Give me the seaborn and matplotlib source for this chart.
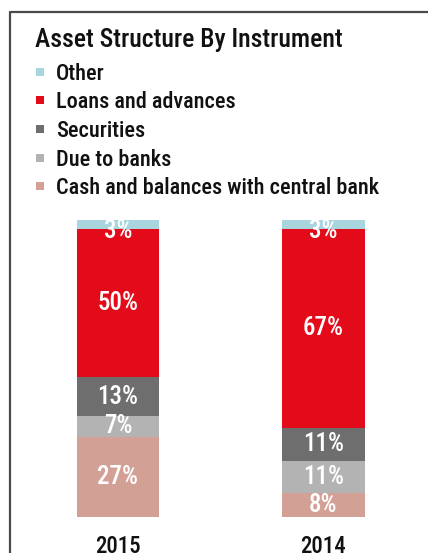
import matplotlib
matplotlib.use("Agg")
import matplotlib.pyplot as plt
from matplotlib.lines import Line2D
import seaborn as sns
import pandas as pd
import numpy as np

# Data (percent of total assets)
years = ["2015", "2014"]
categories = ["Cash and balances with central bank", "Due to banks", "Securities",
              "Loans and advances", "Other"]
cash = [27, 8]
due_banks = [7, 11]
securities = [13, 11]
loans = [50, 67]
other = [3, 3]
colors = ["#D3A096", "#B3B3B3", "#6E6E6E", "#E30A1A", "#A8D5DE"]

sns.set_theme(style="white")
font = ["Roboto Condensed", "DejaVu Sans"]
plt.rcParams["font.family"] = font
WT = "medium"

W, H = 428, 553
fig = plt.figure(figsize=(W / 100, H / 100), dpi=100)

# axes spanning the bar area
x0, x1 = 15.25, 15.25 + 411
y_bot, y_top = 517, 220
ax = fig.add_axes([x0 / W, (H - y_bot) / H, (x1 - x0) / W, (y_bot - y_top) / H])

series = [cash, due_banks, securities, loans, other]
bottom = np.zeros(len(years))
for name, vals, col in zip(categories, series, colors):
    df = pd.DataFrame({"year": years, "value": vals})
    sns.barplot(data=df, x="year", y="value", bottom=bottom, color=col,
                width=0.4, saturation=1, ax=ax, linewidth=0, order=years)
    for i, v in enumerate(vals):
        top = bottom[i] + v
        if name == "Other":
            ax.text(i, top + 0.3, f"{v}%", ha="center", va="top", color="white",
                    fontsize=18, family=font, weight=WT)
        else:
            ax.text(i, bottom[i] + v / 2, f"{v}%", ha="center", va="center",
                    color="white", fontsize=18, family=font, weight=WT)
    bottom = bottom + np.array(vals)

ax.set_xlim(-0.5, 1.5)
ax.set_ylim(0, 100)
ax.set_xlabel("")
ax.set_ylabel("")
ax.set_yticks([])
ax.tick_params(axis="x", length=0, pad=13, labelsize=16.5, labelcolor="#111111")
for lbl in ax.get_xticklabels():
    lbl.set_family(font)
    lbl.set_weight(WT)
sns.despine(ax=ax, left=True, bottom=True)

# title
fig.text(35 / W, 1 - 47 / H, "Asset Structure By Instrument", fontsize=18.5,
         color="#111111", ha="left", va="baseline", family=font, weight=WT)

# legend, top entry first
handles = [Line2D([], [], marker="s", linestyle="none", markersize=5.8,
                  markerfacecolor=c, markeredgewidth=0) for c in colors[::-1]]
fig.legend(handles, categories[::-1], loc="upper left",
           bbox_to_anchor=(33.3 / W, 1 - 62.5 / H), frameon=False,
           prop={"family": font, "size": 16, "weight": WT},
           labelcolor="#111111",
           handlelength=0.6, handletextpad=0.42, labelspacing=0.30,
           borderaxespad=0, borderpad=0)

# frame lines on the left and top edges
fig.add_artist(Line2D([10 / W, 10 / W, 1.0], [0, 1 - 11.5 / H, 1 - 11.5 / H],
                      transform=fig.transFigure, color="#4a4a4a", linewidth=1.6))

fig.savefig("out.png", dpi=100)
